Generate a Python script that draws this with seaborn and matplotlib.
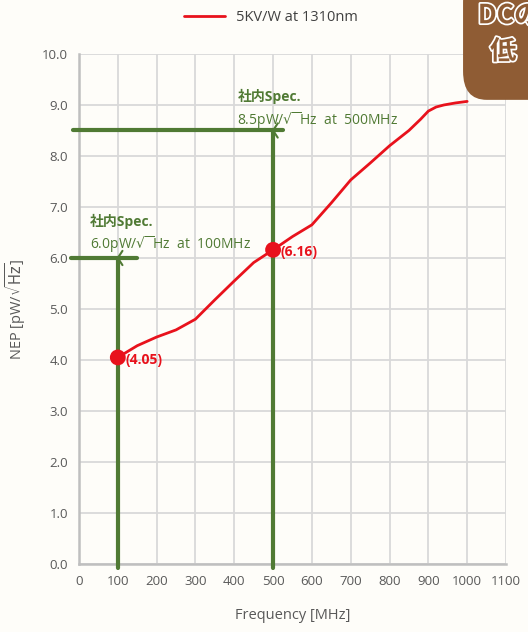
import numpy as np
import pandas as pd
import matplotlib
matplotlib.use("Agg")
import matplotlib.pyplot as plt
import matplotlib.patheffects as pe
from matplotlib.patches import FancyBboxPatch
import seaborn as sns

# curve (MHz, pW/sqrt(Hz))
freq = [100, 150, 200, 250, 300, 350, 400, 450, 500, 550, 600, 650, 700,
        750, 800, 850, 880, 900, 920, 940, 970, 1000]
nep = [4.05, 4.28, 4.45, 4.59, 4.80, 5.18, 5.55, 5.91, 6.16, 6.42, 6.65, 7.08,
       7.53, 7.86, 8.20, 8.50, 8.72, 8.88, 8.96, 9.00, 9.04, 9.07]

mark_freq = [100, 500]
mark_nep = [4.05, 6.16]
mark_labels = ["(4.05)", "(6.16)"]

spec_freq = [100, 500]
spec_nep = [6.0, 8.5]
spec_text = ["6.0pW/$\\sqrt{\\ }$Hz  at  100MHz", "8.5pW/$\\sqrt{\\ }$Hz  at  500MHz"]

xticks = list(range(0, 1101, 100))
yticks = [i * 1.0 for i in range(11)]

RED = "#e8121c"
GREEN = "#507a34"
GRID = "#d9d9d9"
TXT = "#595959"
BG = "#fefdf9"

sns.set_theme(style="white")
plt.rcParams["font.family"] = ["Open Sans", "Noto Sans CJK JP", "DejaVu Sans"]

df = pd.DataFrame({"freq": freq, "nep": nep})
pts = pd.DataFrame({"freq": mark_freq, "nep": mark_nep})

fig = plt.figure(figsize=(5.28, 6.32), dpi=100, facecolor=BG)
ax = fig.add_axes([0.1496, 0.1076, 0.8087, 0.807])
ax.set_facecolor(BG)

ax.set_xlim(0, 1100)
ax.set_ylim(0, 10)
ax.set_xticks(xticks)
ax.set_yticks(yticks)
ax.set_yticklabels([f"{v:.1f}" for v in yticks])
ax.grid(True, color=GRID, linewidth=1.3)
ax.set_axisbelow(True)
for s in ["top", "right"]:
    ax.spines[s].set_visible(False)
for s in ["left", "bottom"]:
    ax.spines[s].set_color("#bfbfbf")
    ax.spines[s].set_linewidth(1.8)
ax.tick_params(axis="both", length=0, labelsize=9.5, colors=TXT, pad=8)

# spec lines
for f, v in zip(spec_freq, spec_nep):
    ax.plot([f, f], [v, -0.08], color=GREEN, lw=3, clip_on=False, zorder=3)
    ax.plot([-20 if f == 100 else -15, f + (50 if f == 100 else 25)], [v, v],
            color=GREEN, lw=3, clip_on=False, zorder=3)
    ax.plot([f + 12, f, f + 12], [v + 0.14, v, v - 0.14], color=GREEN, lw=1.5, zorder=3)

sns.lineplot(data=df, x="freq", y="nep", color=RED, lw=2, ax=ax, zorder=4,
             label="5KV/W at 1310nm")
sns.scatterplot(data=pts, x="freq", y="nep", color=RED, s=130, ax=ax, zorder=5,
                edgecolor="none", legend=False)
for f, v, lab in zip(mark_freq, mark_nep, mark_labels):
    ax.text(f + 20, v - 0.05, lab, color=RED, fontsize=10, fontweight="bold",
            va="center", ha="left", zorder=6)

# spec annotations
ax.text(28, 6.72, "社内Spec.", color=GREEN, fontsize=10, fontweight="bold", va="center")
ax.text(28, 6.27, spec_text[0], color=GREEN, fontsize=10, va="center")
ax.text(408, 9.17, "社内Spec.", color=GREEN, fontsize=10, fontweight="bold", va="center")
ax.text(408, 8.7, spec_text[1], color=GREEN, fontsize=10, va="center")

ax.set_xlabel("Frequency [MHz]", fontsize=10.5, color=TXT, labelpad=14)
ax.set_ylabel("NEP [pW/$\\sqrt{\\mathrm{Hz}}$]", fontsize=10.5, color=TXT, labelpad=10)

leg = ax.legend(loc="lower center", bbox_to_anchor=(0.45, 1.045), frameon=False,
                fontsize=10.5, handlelength=2.8, borderaxespad=0)
for t in leg.get_texts():
    t.set_color("#404040")

# brown overlay box in the corner
box = FancyBboxPatch((0.877, 0.842), 0.2, 0.2, boxstyle="round,pad=0,rounding_size=0.045",
                     transform=fig.transFigure, facecolor="#8f5c34", edgecolor="none",
                     zorder=10, figure=fig)
fig.patches.append(box)
for x, y, s in [(0.905, 0.975, "DCの"), (0.928, 0.918, "低")]:
    fig.text(x, y, s, fontsize=19, color="#8f5c34",
             fontweight="bold", va="center", ha="left", zorder=11,
             family=["Noto Sans CJK JP", "DejaVu Sans"],
             path_effects=[pe.withStroke(linewidth=2.5, foreground="white")])

fig.savefig("out.png", dpi=100, facecolor=BG)
